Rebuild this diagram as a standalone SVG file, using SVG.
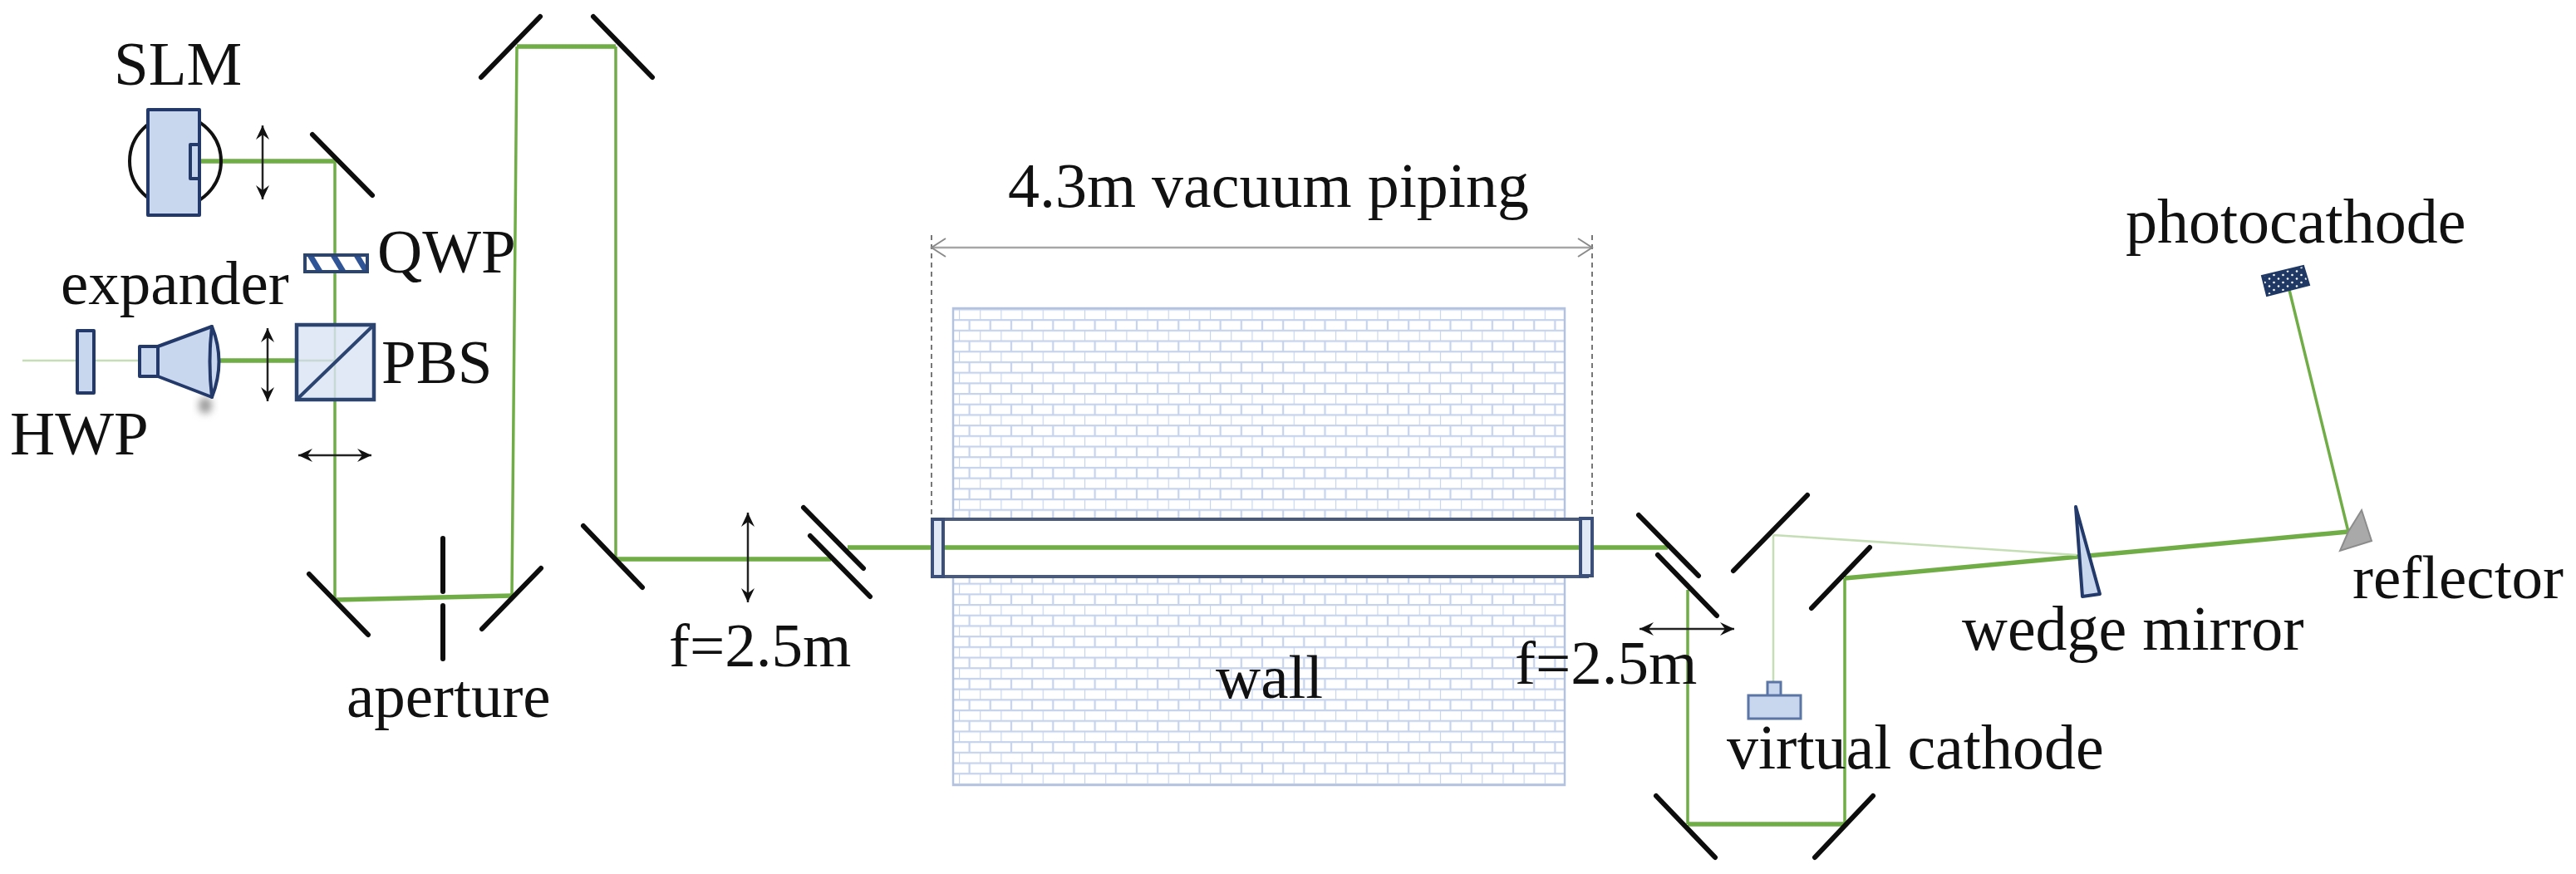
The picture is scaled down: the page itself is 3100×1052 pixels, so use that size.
<svg xmlns="http://www.w3.org/2000/svg" width="3100" height="1052" viewBox="0 0 3100 1052">
<style>
text{font-family:"Liberation Serif","Times New Roman",serif;font-size:75px;fill:#111}
text.w{font-size:76px}
.m{stroke:#0d0d0d;stroke-width:6;fill:none;stroke-linecap:round}
.b{fill:#c8d6ee;stroke:#22396a;stroke-width:4;stroke-linejoin:round}
.l{fill:#e2e9f6;stroke:#3b4f78;stroke-width:4}
.g{stroke:#70ad47;fill:none}
.thin{stroke-width:3.5}
.thick{stroke-width:5.5}
.pale{stroke:#c5deb5;stroke-width:2.5}
.lens{stroke:#222;stroke-width:2.5;fill:none;marker-start:url(#ah);marker-end:url(#ah)}
</style>
<defs>
<marker id="ah" markerUnits="userSpaceOnUse" markerWidth="24" markerHeight="20" refX="21" refY="10" orient="auto-start-reverse" viewBox="0 0 24 20"><path d="M21 10L4 2L10 10L4 18Z" fill="#111"/></marker>
<marker id="oa" markerUnits="userSpaceOnUse" markerWidth="24" markerHeight="28" refX="20" refY="14" orient="auto-start-reverse" viewBox="0 0 24 28"><path d="M3 3L20 14L3 25" fill="none" stroke="#8a8a8a" stroke-width="2"/></marker>
<pattern id="brick" patternUnits="userSpaceOnUse" x="1154" y="371.4" width="25.17" height="25.4">
<rect width="25.17" height="25.4" fill="#fff"/>
<path d="M0 1H25.17M0 13.7H25.17M0 0V12.7M12.6 12.7V25.4" stroke="#c6d3ec" stroke-width="2.2" fill="none"/>
</pattern>
<pattern id="hatch" patternUnits="userSpaceOnUse" x="0" y="0" width="28" height="20" patternTransform="translate(367 307)">
<rect width="28" height="20" fill="#fff"/><path d="M2 0L14 20H22L10 0Z" fill="#2f5597"/>
</pattern>
<pattern id="dots" patternUnits="userSpaceOnUse" width="11" height="9">
<rect width="11" height="9" fill="#1f3864"/><circle cx="3" cy="2.5" r="1.3" fill="#fff"/><circle cx="8.5" cy="7" r="1.3" fill="#fff"/>
</pattern>
<filter id="soft" x="-50%" y="-50%" width="200%" height="200%"><feGaussianBlur stdDeviation="5"/></filter>
</defs>
<rect width="3100" height="1052" fill="#fff"/>
<g id="wall">
<rect x="1147" y="371" width="736" height="574" fill="url(#brick)" stroke="#b4c2de" stroke-width="2.5"/>
</g>
<g id="dimension">
<path d="M1121 283V625M1916 283V625" stroke="#777" stroke-width="2" stroke-dasharray="6 5" fill="none"/>
<path d="M1121 298H1916" stroke="#a6a6a6" stroke-width="2.5" fill="none" marker-start="url(#oa)" marker-end="url(#oa)"/>
</g>
<g id="pipe">
<rect x="1128" y="625" width="782" height="69" fill="#fff" stroke="#4a5a7a" stroke-width="4"/>
</g>
<g id="connectors">
<path class="g thin" d="M403 194V391M403 481V722M622 56L616 717M741 56V673M2031 710V992M2220 992V696M2755 349L2826 640"/>
<path class="g thick" d="M240 194H403M622 56H741M263 434H357M405 722L616 717M742 673H1000M1020 659H2007M2031 992H2220M2220 696L2826 640"/>
<path class="g pale" d="M27 434H168M403 391V481M357 434H403M2134 644V821M2134 644L2499 668"/>
</g>
<g id="slm">
<circle cx="211" cy="194" r="55" fill="none" stroke="#111" stroke-width="4"/>
<rect class="b" x="178" y="132" width="62" height="127"/>
<rect class="b" x="229" y="174" width="11" height="41"/>
<text x="137" y="102">SLM</text>
</g>
<g id="m1"><path class="m" d="M376 162L448 235"/></g>
<g id="lens-slm"><path class="lens" d="M316 151V240"/></g>
<g id="qwp">
<rect x="367" y="307" width="75" height="20" fill="url(#hatch)" stroke="#2b4470" stroke-width="4"/>
<text x="454" y="328">QWP</text>
</g>
<g id="expander">
<ellipse cx="247" cy="488" rx="8" ry="10" fill="#999" filter="url(#soft)"/>
<path class="b" d="M190 417L255 393V478L190 453Z"/>
<path class="b" d="M255 393Q272 435 255 478Q250 435 255 393Z"/>
<rect class="b" x="168" y="417" width="22" height="36"/>
<text x="73" y="366">expander</text>
</g>
<g id="hwp">
<rect class="b" x="93" y="398" width="20" height="75"/>
<text x="12" y="547">HWP</text>
</g>
<g id="lens-exp"><path class="lens" d="M322 395V483"/></g>
<g id="pbs">
<rect x="357" y="391" width="93" height="90" fill="#c8d6ee" fill-opacity=".55" stroke="#2b4470" stroke-width="4.5"/>
<path d="M357 481L450 391" stroke="#2b4470" stroke-width="4"/>
<text x="459" y="461">PBS</text>
</g>
<g id="lens-h"><path class="lens" d="M359 548H447"/></g>
<g id="m2"><path class="m" d="M650 20L579 93"/></g>
<g id="m3"><path class="m" d="M714 20L785 93"/></g>
<g id="m4"><path class="m" d="M372 691L443 764"/></g>
<g id="m5"><path class="m" d="M651 684L580 757"/></g>
<g id="aperture">
<path class="m" d="M533 648V712M533 729V793"/>
<text x="417" y="863">aperture</text>
</g>
<g id="m6"><path class="m" d="M702 633L773 707"/></g>
<g id="lens1">
<path class="lens" d="M900 617V725"/>
<text x="805" y="802">f=2.5m</text>
</g>
<g id="m7"><path class="m" d="M967 611L1039 684M975 645L1047 718"/></g>
<g id="flanges">
<rect class="l" x="1122" y="625" width="13" height="69"/>
<rect class="l" x="1902" y="624" width="14" height="69"/>
</g>
<g id="wall-label"><text x="1463" y="840">wall</text></g>
<g id="pipe-label"><text class="w" x="1213" y="249">4.3m vacuum piping</text></g>
<g id="m8"><path class="m" d="M1972 620L2044 693M1995 668L2066 741"/></g>
<g id="lens2">
<path class="lens" d="M1973 757H2087"/>
<text x="1823" y="823">f=2.5m</text>
</g>
<g id="m9"><path class="m" d="M2175 596L2086 687"/></g>
<g id="m10"><path class="m" d="M2250 659L2180 732"/></g>
<g id="m11"><path class="m" d="M1993 958L2064 1032"/></g>
<g id="m12"><path class="m" d="M2254 958L2184 1032"/></g>
<g id="virtual-cathode">
<rect x="2127" y="821" width="16" height="18" fill="#c8d6ee" stroke="#5b75a5" stroke-width="3"/>
<rect x="2104" y="837" width="63" height="28" fill="#c8d6ee" stroke="#5b75a5" stroke-width="3"/>
<text class="w" x="2078" y="925">virtual cathode</text>
</g>
<g id="wedge-mirror">
<path class="b" d="M2498 610L2527 715L2506 718Z"/>
<text class="w" x="2361" y="782">wedge mirror</text>
</g>
<g id="reflector">
<path d="M2842 614L2854 651L2816 663L2826 640Z" fill="#a9a9a9" stroke="#8c8c8c" stroke-width="2"/>
<text x="2831" y="720">reflector</text>
</g>
<g id="photocathode">
<path d="M2722 332L2772 320L2779 343L2728 356Z" fill="url(#dots)" stroke="#1f3864" stroke-width="2"/>
<text class="w" x="2558" y="292">photocathode</text>
</g>
</svg>
